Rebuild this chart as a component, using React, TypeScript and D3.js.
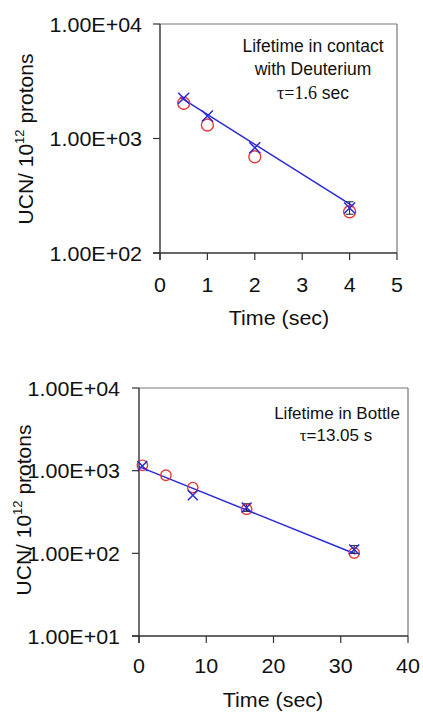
import React from "react";
import * as d3 from "d3";

// ---- Data: top panel (contact with deuterium) ----
const topTimes = [0.5, 1, 2, 4];
const topCross = [2245, 1573, 831, 247];
const topCircle = [2030, 1312, 693, 229];
const topErrTimes = [4];
const topErrLow = [218];
const topErrHigh = [280];
const topFitT = [0.42, 4.08];
const topFitV = [2300, 255];
const topXTicks = [0, 1, 2, 3, 4, 5];
const topYTicks = [100, 1000, 10000];
const topNote = ["Lifetime in contact", "with Deuterium"];

// ---- Data: bottom panel (bottle) ----
const botCrossTimes = [0.5, 8, 16, 32];
const botCross = [1140, 504, 358, 111];
const botCircleTimes = [0.5, 4, 8, 16, 32];
const botCircle = [1162, 880, 624, 341, 101];
const botErrTimes = [16, 32];
const botErrLow = [322, 100];
const botErrHigh = [398, 124];
const botFitT = [0, 32.2];
const botFitV = [1120, 98];
const botXTicks = [0, 10, 20, 30, 40];
const botYTicks = [10, 100, 1000, 10000];

const SANS = "'Liberation Sans', Arial, sans-serif";
const SERIF = "'Liberation Serif', 'Times New Roman', serif";
const BLUE = "#2a2ad6";
const RED = "#e8393c";
const AXIS = "#333";
const SX = 1.1;

type TProps = { x: number; y: number; anchor?: "start" | "middle" | "end"; size: number; sx?: number; children: React.ReactNode };
function T({ x, y, anchor = "middle", size, sx = SX, children }: TProps) {
  return (
    <g transform={`translate(${x},${y}) scale(${sx},1)`}>
      <text x={0} y={0} textAnchor={anchor} fontFamily={SANS} fontSize={size} fill="#111">{children}</text>
    </g>
  );
}

type PanelProps = {
  left: number; right: number; top: number; bottom: number;
  xDomain: [number, number]; yDomain: [number, number];
  xTicks: number[]; yTicks: number[];
  crossT: number[]; crossV: number[];
  circT: number[]; circV: number[];
  errT: number[]; errLo: number[]; errHi: number[];
  fitT: number[]; fitV: number[];
  yLabelX: number; yLabelY: number;
  xLabelBaseline: number; xTitleX: number; xTitleBaseline: number;
  yLabelRight: number; circR: number; crossR: number;
  children?: React.ReactNode;
};

const fmt = (v: number) => {
  const e = Math.round(Math.log10(v));
  return "1.00E+" + (e < 10 ? "0" + e : "" + e);
};

function Panel(p: PanelProps) {
  const x = d3.scaleLinear().domain(p.xDomain).range([p.left, p.right]);
  const y = d3.scaleLog().domain(p.yDomain).range([p.bottom, p.top]);
  const line = d3.line<number>().x((_, i) => x(p.fitT[i])).y((v) => y(v));
  const tl = 7;
  return (
    <g>
      <line x1={p.left} x2={p.right} y1={p.top} y2={p.top} stroke="#777" strokeWidth={1.2} />
      <line x1={p.right} x2={p.right} y1={p.top} y2={p.bottom} stroke="#777" strokeWidth={1.2} />
      <line x1={p.left} x2={p.left} y1={p.top} y2={p.bottom + tl} stroke={AXIS} strokeWidth={1.4} />
      <line x1={p.left - tl} x2={p.right} y1={p.bottom} y2={p.bottom} stroke={AXIS} strokeWidth={1.4} />
      {p.xTicks.map((t) => (
        <g key={"xt" + t}>
          <line x1={x(t)} x2={x(t)} y1={p.bottom} y2={p.bottom + tl} stroke={AXIS} strokeWidth={1.2} />
          <T x={x(t)} y={p.xLabelBaseline} size={19.5}>{t}</T>
        </g>
      ))}
      {p.yTicks.map((t) => (
        <g key={"yt" + t}>
          <line x1={p.left - tl} x2={p.left} y1={y(t)} y2={y(t)} stroke={AXIS} strokeWidth={1.2} />
          <T x={p.yLabelRight} y={y(t) + 7.5} anchor="end" size={19.5}>{fmt(t)}</T>
        </g>
      ))}
      <T x={p.xTitleX} y={p.xTitleBaseline} size={19.5}>Time (sec)</T>
      <text transform={`translate(${p.yLabelX},${p.yLabelY}) rotate(-90)`} textAnchor="middle" fontFamily={SANS} fontSize={21} fill="#111">
        UCN/ 10<tspan fontSize={13} dy={-9}>12</tspan><tspan dy={9}> protons</tspan>
      </text>
      <path d={line(p.fitV) || ""} fill="none" stroke={BLUE} strokeWidth={1.5} />
      {p.errT.map((t, i) => (
        <g key={"e" + i} stroke="#223" strokeWidth={1}>
          <line x1={x(t)} x2={x(t)} y1={y(p.errLo[i])} y2={y(p.errHi[i])} />
          <line x1={x(t) - 4} x2={x(t) + 4} y1={y(p.errLo[i])} y2={y(p.errLo[i])} />
          <line x1={x(t) - 4} x2={x(t) + 4} y1={y(p.errHi[i])} y2={y(p.errHi[i])} />
        </g>
      ))}
      {p.circT.map((t, i) => (
        <circle key={"c" + i} cx={x(t)} cy={y(p.circV[i])} r={p.circR} fill="none" stroke={RED} strokeWidth={1.4} />
      ))}
      {p.crossT.map((t, i) => {
        const cx = x(t), cy = y(p.crossV[i]), r = p.crossR;
        return (
          <path key={"x" + i} d={`M${cx - r},${cy - r}L${cx + r},${cy + r}M${cx - r},${cy + r}L${cx + r},${cy - r}`} stroke={BLUE} strokeWidth={1.5} fill="none" />
        );
      })}
      {p.children}
    </g>
  );
}

export default function App() {
  return (
    <svg width={423} height={713} style={{ position: "absolute", left: 0, top: 0, background: "#fff" }}>
      <rect x={0} y={0} width={423} height={713} fill="#fff" />
      <Panel
        left={160} right={397} top={24} bottom={253}
        xDomain={[0, 5]} yDomain={[100, 10000]}
        xTicks={topXTicks} yTicks={topYTicks}
        crossT={topTimes} crossV={topCross}
        circT={topTimes} circV={topCircle}
        errT={topErrTimes} errLo={topErrLow} errHi={topErrHigh}
        fitT={topFitT} fitV={topFitV}
        yLabelX={33} yLabelY={139}
        xLabelBaseline={292} xTitleX={279} xTitleBaseline={325}
        yLabelRight={142} circR={6} crossR={5.5}
      >
        <text x={313} y={52} textAnchor="middle" fontFamily={SANS} fontSize={17.5} fill="#111">{topNote[0]}</text>
        <text x={313} y={75} textAnchor="middle" fontFamily={SANS} fontSize={17.5} fill="#111">{topNote[1]}</text>
        <text x={313} y={99} textAnchor="middle" fontSize={18} fill="#111">
          <tspan fontFamily={SERIF}>τ=1.6</tspan><tspan fontFamily={SANS} fontSize={17.5}> sec</tspan>
        </text>
      </Panel>
      <Panel
        left={139} right={408} top={388} bottom={636}
        xDomain={[0, 40]} yDomain={[10, 10000]}
        xTicks={botXTicks} yTicks={botYTicks}
        crossT={botCrossTimes} crossV={botCross}
        circT={botCircleTimes} circV={botCircle}
        errT={botErrTimes} errLo={botErrLow} errHi={botErrHigh}
        fitT={botFitT} fitV={botFitV}
        yLabelX={31} yLabelY={510}
        xLabelBaseline={673} xTitleX={273} xTitleBaseline={707}
        yLabelRight={120} circR={5.2} crossR={5}
      >
        <text x={337} y={419} textAnchor="middle" fontFamily={SANS} fontSize={17} fill="#111">Lifetime in Bottle</text>
        <text x={336} y={441} textAnchor="middle" fontSize={17} fill="#111">
          <tspan fontFamily={SERIF}>τ</tspan><tspan fontFamily={SANS}>=13.05 s</tspan>
        </text>
      </Panel>
    </svg>
  );
}
